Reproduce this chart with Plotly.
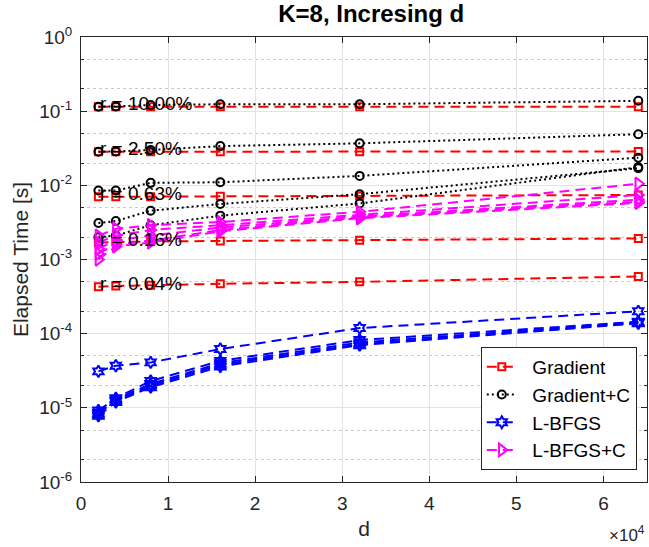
import numpy as np
import plotly.graph_objects as go

d = [2000, 4000, 8000, 16000, 32000, 64000]
r_labels = ["r = 10.00%", "r = 2.50%", "r = 0.63%", "r = 0.16%", "r = 0.04%"]

grad = [
    [0.115, 0.115, 0.115, 0.115, 0.115, 0.115],
    [0.0284, 0.0284, 0.0284, 0.0284, 0.0284, 0.0286],
    [0.0070, 0.0070, 0.0070, 0.0071, 0.0072, 0.0074],
    [0.00170, 0.00172, 0.00175, 0.00178, 0.00182, 0.00192],
    [0.00043, 0.00044, 0.00045, 0.00047, 0.00050, 0.00059],
]
grad_c = [
    [0.115, 0.116, 0.121, 0.124, 0.124, 0.138],
    [0.0284, 0.0286, 0.030, 0.0338, 0.0368, 0.0489],
    [0.0085, 0.0085, 0.0108, 0.0110, 0.0134, 0.0236],
    [0.0031, 0.0033, 0.00455, 0.0056, 0.0076, 0.0170],
    [0.0020, 0.0021, 0.0029, 0.0039, 0.0057, 0.0176],
]
lbfgs = [
    [3.1e-5, 3.7e-5, 4.1e-5, 6.2e-5, 1.19e-4, 2.0e-4],
    [9.2e-6, 1.35e-5, 2.3e-5, 4.3e-5, 8.2e-5, 1.45e-4],
    [8.6e-6, 1.3e-5, 2.1e-5, 4.0e-5, 7.6e-5, 1.42e-4],
    [8.2e-6, 1.25e-5, 2.0e-5, 3.8e-5, 7.2e-5, 1.40e-4],
    [7.8e-6, 1.2e-5, 1.9e-5, 3.6e-5, 7.0e-5, 1.38e-4],
]
lbfgs_c = [
    [0.0021, 0.0026, 0.0029, 0.0032, 0.0044, 0.0105],
    [0.0017, 0.0021, 0.0025, 0.0029, 0.0040, 0.0074],
    [0.0014, 0.0018, 0.0021, 0.0027, 0.0038, 0.0064],
    [0.0012, 0.0016, 0.0018, 0.0025, 0.0037, 0.0060],
    [0.0010, 0.0015, 0.0017, 0.0024, 0.0036, 0.0058],
]

series = [
    ("Gradient", grad, "#ff0000", "10px,6px", "square-open", 7),
    ("Gradient+C", grad_c, "#000000", "2px,3px", "circle-open", 8),
    ("L-BFGS", lbfgs, "#0000ff", "10px,6px", "hexagram-open", 9),
    ("L-BFGS+C", lbfgs_c, "#ff00ff", "10px,6px", "triangle-right-open", 11),
]

FONT = "Liberation Sans, Arial, Helvetica, sans-serif"
fig = go.Figure()
for name, data, color, dash, sym, msize in series:
    for i, ys in enumerate(data):
        fig.add_trace(go.Scatter(
            x=d, y=ys, mode="lines+markers", name="\u00a0\u00a0" + name,
            legendgroup=name, showlegend=(i == 0),
            line=dict(color=color, width=2, dash=dash),
            marker=dict(symbol=sym, size=msize, color=color,
                        line=dict(color=color, width=2)),
        ))

for lab, ys in zip(r_labels, grad):
    fig.add_annotation(x=d[0], y=np.log10(ys[0]), text=lab, showarrow=False,
                       xanchor="left", yanchor="middle", yshift=3,
                       font=dict(family=FONT, size=19, color="#000000"))

fig.add_annotation(xref="paper", yref="paper", x=1.0, y=-0.146, text="×10<sup>4</sup>",
                   showarrow=False, xanchor="right", yanchor="bottom",
                   font=dict(family=FONT, size=17, color="#262626"))

ytv = [10.0 ** k for k in range(-6, 1)]
ytt = ["10<sup>%d</sup>" % k for k in range(-6, 1)]
xtv = [0, 10000, 20000, 30000, 40000, 50000, 60000]
xtt = ["0", "1", "2", "3", "4", "5", "6"]

axcommon = dict(showline=True, linecolor="#262626", linewidth=1, mirror="allticks",
                ticks="inside", tickcolor="#262626", ticklen=6,
                showgrid=True, gridcolor="#e3e3e3", gridwidth=1, zeroline=False,
                ticklabelstandoff=4,
                tickfont=dict(family=FONT, size=19, color="#262626"))

fig.update_xaxes(range=[0, 65000], tickvals=xtv, ticktext=xtt,
                 title=dict(text="d", font=dict(family=FONT, size=21, color="#262626"), standoff=8),
                 **axcommon)
fig.update_yaxes(type="log", range=[-6, 0], tickvals=ytv, ticktext=ytt,
                 title=dict(text="Elapsed Time [s]", font=dict(family=FONT, size=21, color="#262626"), standoff=4),
                 minor=dict(ticks="inside", ticklen=3, tickcolor="#262626", showgrid=True,
                            gridcolor="#c8c8c8", griddash="dot", gridwidth=1),
                 **axcommon)

fig.update_layout(
    width=649, height=547,
    margin=dict(l=81, r=2, t=37, b=65),
    paper_bgcolor="white", plot_bgcolor="white",
    title=dict(text="<b>K=8, Incresing d</b>", x=0.572, xanchor="center", y=0.975, yanchor="middle",
               font=dict(family=FONT, size=24, color="#000000")),
    legend=dict(x=0.982, xanchor="right", y=0.027, yanchor="bottom",
                bgcolor="white", bordercolor="#262626", borderwidth=1,
                font=dict(family=FONT, size=19, color="#000000"),
                tracegroupgap=0, itemwidth=30),
    showlegend=True,
)

fig.write_html("out.html")
